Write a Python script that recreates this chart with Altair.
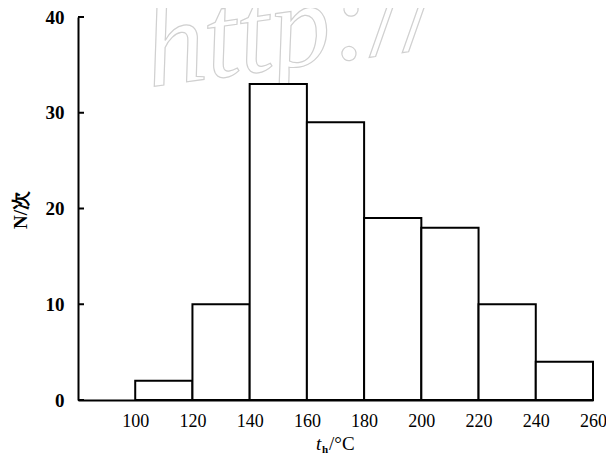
import altair as alt
import pandas as pd

bin_start = [100, 120, 140, 160, 180, 200, 220, 240]
bin_end = [120, 140, 160, 180, 200, 220, 240, 260]
counts = [2, 10, 33, 29, 19, 18, 10, 4]
x_ticks = [100, 120, 140, 160, 180, 200, 220, 240, 260]
y_ticks = [0, 10, 20, 30, 40]

df = pd.DataFrame({"start": bin_start, "end": bin_end, "n": counts})
ticks_df = pd.DataFrame({"v": y_ticks})

FONT = "Liberation Serif"

xs = alt.Scale(domain=[80, 260], nice=False, zero=False)
ys = alt.Scale(domain=[0, 40], nice=False)

bars = alt.Chart(df).mark_rect(fill="white", stroke="black", strokeWidth=2).encode(
    x=alt.X("start:Q", scale=xs,
            axis=alt.Axis(values=x_ticks, title=None, ticks=False, grid=False,
                          domainColor="black", domainWidth=2, labelFont=FONT,
                          labelFontSize=18, labelColor="black", labelPadding=12,
                          labelFlush=False)),
    x2="end:Q",
    y=alt.Y("n:Q", scale=ys,
            axis=alt.Axis(values=y_ticks, title=None, ticks=False, grid=False,
                          domainColor="black", domainWidth=2, labelFont=FONT,
                          labelFontSize=19, labelFontWeight="bold", labelColor="black",
                          labelPadding=14)),
    y2=alt.Y2(datum=0),
)

tick_marks = alt.Chart(ticks_df).mark_rule(color="black", strokeWidth=2).encode(
    y=alt.Y("v:Q", scale=ys),
    x=alt.value(0),
    x2=alt.value(6),
)

title_df = pd.DataFrame({"a": [1]})
t_main = alt.Chart(title_df).mark_text(font=FONT, fontSize=19, fontStyle="italic",
                                       align="left", baseline="alphabetic", color="black").encode(
    x=alt.value(238), y=alt.value(433), text=alt.value("t"))
t_sub = alt.Chart(title_df).mark_text(font=FONT, fontSize=11, fontWeight="bold",
                                      align="left", baseline="alphabetic", color="black").encode(
    x=alt.value(244), y=alt.value(436), text=alt.value("h"))
t_rest = alt.Chart(title_df).mark_text(font=FONT, fontSize=19,
                                       align="left", baseline="alphabetic", color="black").encode(
    x=alt.value(251), y=alt.value(433), text=alt.value("/°C"))
y_title = alt.Chart(title_df).mark_text(font=FONT, fontSize=19, fontWeight="bold", angle=270,
                                        align="center", baseline="middle", color="black").encode(
    x=alt.value(-57), y=alt.value(193), text=alt.value("N/次"))
watermark = alt.Chart(title_df).mark_text(font=FONT, fontSize=120, fontStyle="italic",
                                          align="left", baseline="alphabetic", fill="white",
                                          fillOpacity=0, stroke="#d0d0d0", strokeWidth=1.2,
                                          angle=352).encode(
    x=alt.value(72), y=alt.value(70), text=alt.value("http://"))

chart = alt.layer(watermark, bars, tick_marks, t_main, t_sub, t_rest, y_title).properties(
    width=515, height=383,
    autosize=alt.AutoSizeParams(type="none"),
    padding={"left": 70, "top": 9, "right": 13, "bottom": 56},
    background="white",
).configure_view(stroke=None)

chart.save("out.html", embed_options={"renderer": "svg", "actions": False})
